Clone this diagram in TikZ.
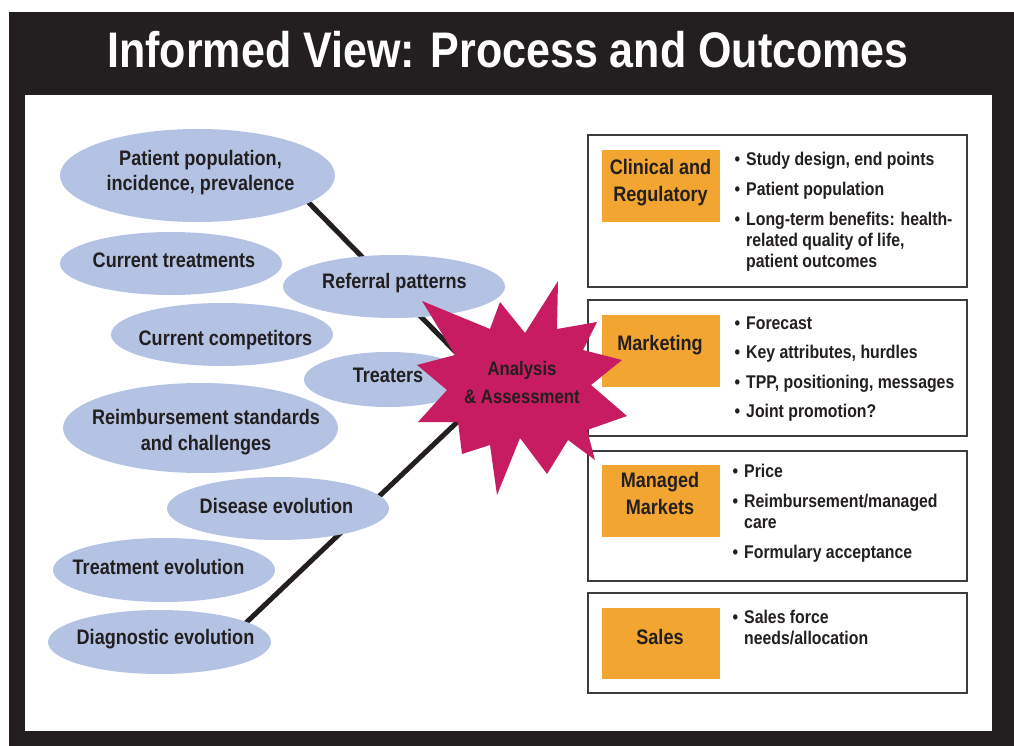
\documentclass[tikz,border=0pt]{standalone}
\usepackage{fontspec}
\setmainfont{Liberation Sans}[FakeStretch=0.86]
\usetikzlibrary{shapes.geometric}

\definecolor{frameink}{RGB}{35,31,32}
\definecolor{bubble}{RGB}{180,195,227}
\definecolor{burst}{RGB}{200,28,98}
\definecolor{tabfill}{RGB}{242,165,48}
\definecolor{ink}{RGB}{35,31,32}
\definecolor{boxline}{RGB}{60,60,60}

% multi-line nodes below are placed by the baseline of their last line
\tikzset{
  bub/.style={ellipse, fill=bubble, inner sep=0pt, outer sep=0pt},
  bubtxt/.style={anchor=base, align=center, inner sep=0pt, text=ink,
    font=\fontsize{21}{25.5}\selectfont\bfseries},
  panel/.style={draw=boxline, line width=1.4pt, fill=white, inner sep=0pt,
    minimum width=379pt},
  tab/.style={fill=tabfill, inner sep=0pt, minimum width=118pt},
  tabtxt/.style={anchor=base, align=center, inner sep=0pt, text=ink,
    font=\fontsize{21}{26.5}\selectfont\bfseries},
  item/.style={anchor=base west, align=left, inner sep=0pt, text=ink,
    font=\fontsize{18.4}{21}\selectfont\bfseries},
  spoke/.style={draw=ink, line width=5pt},
}
\newcommand{\bul}{\llap{\textbullet\hspace{6pt}}}

\begin{document}
\begin{tikzpicture}[x=1pt, y=-1pt]
\useasboundingbox (0,0) rectangle (1014,746);

% frame and white panel
\fill[frameink] (9,12) rectangle (1014,746);
\fill[white] (25,95) rectangle (992,731);
\node[anchor=base, inner sep=0pt, text=white,
      font=\fontsize{50}{50}\selectfont\bfseries] (title) at (508,68)
  {Informed View: Process and Outcomes};

% spokes into the burst
\coordinate (hub) at (492,389);
\coordinate (upend) at (285,178.5);
\coordinate (loend) at (230,638);
\draw[spoke] (upend) -- (hub) -- (loend);

% input bubbles
\node[bub, minimum width=275pt, minimum height=93pt] (pp) at (197.5,175.5) {};
\node[bub, minimum width=222pt, minimum height=63pt] (ct) at (171,263.5) {};
\node[bub, minimum width=222pt, minimum height=63pt] (cc) at (222,334.5) {};
\node[bub, minimum width=275pt, minimum height=90pt] (rs) at (200.5,428) {};
\node[bub, minimum width=222pt, minimum height=63pt] (rp) at (394,286.5) {};
\node[bub, minimum width=168pt, minimum height=55pt] (tr) at (388,379.5) {};
\node[bub, minimum width=222pt, minimum height=63pt] (de) at (278,508.5) {};
\node[bub, minimum width=222pt, minimum height=64pt] (te) at (164,570) {};
\node[bub, minimum width=223pt, minimum height=64pt] (dx) at (159.5,642) {};

\node[bubtxt] (pp-t) at (200.5,191) {Patient population,\\incidence, prevalence};
\node[bubtxt] (ct-t) at (174,267) {Current treatments};
\node[bubtxt] (cc-t) at (225.5,345) {Current competitors};
\node[bubtxt] (rs-t) at (206,450) {Reimbursement standards\\and challenges};
\node[bubtxt] (rp-t) at (394.5,288) {Referral patterns};
\node[bubtxt] (tr-t) at (388,382) {Treaters};
\node[bubtxt] (de-t) at (276.5,513) {Disease evolution};
\node[bubtxt] (te-t) at (158.5,574) {Treatment evolution};
\node[bubtxt] (dx-t) at (165.5,644) {Diagnostic evolution};

% outcome panels
\node[panel, minimum height=152pt] (p1) at (777.5,211) {};
\node[panel, minimum height=136pt] (p2) at (777.5,368) {};
\node[panel, minimum height=130pt] (p3) at (777.5,516) {};
\node[panel, minimum height=100pt] (p4) at (777.5,643) {};

\node[tab, minimum height=72pt] (t1) at (661,186) {};
\node[tab, minimum height=72pt] (t2) at (661,351) {};
\node[tab, minimum height=72pt] (t3) at (661,501) {};
\node[tab, minimum height=71pt] (t4) at (661,643.5) {};

\node[tabtxt] (t1-t) at (660.5,201) {Clinical and\\Regulatory};
\node[tabtxt] (t2-t) at (660,350) {Marketing};
\node[tabtxt] (t3-t) at (660,514) {Managed\\Markets};
\node[tabtxt] (t4-t) at (660,644) {Sales};

% bullet lists
\node[item] (c1) at (746,166) {\bul Study design, end points};
\node[item] (c2) at (746,196) {\bul Patient population};
\node[item] (c3) at (746,267) {\bul Long-term benefits: health-\\related quality of life,\\patient outcomes};

\node[item] (m1) at (746,329) {\bul Forecast};
\node[item] (m2) at (746,358) {\bul Key attributes, hurdles};
\node[item] (m3) at (746,388) {\bul TPP, positioning, messages};
\node[item] (m4) at (746,417) {\bul Joint promotion?};

\node[item] (k1) at (744,477) {\bul Price};
\node[item] (k2) at (744,528) {\bul Reimbursement/managed\\care};
\node[item] (k3) at (744,558) {\bul Formulary acceptance};

\node[item] (s1) at (744,644) {\bul Sales force\\needs/allocation};

% central burst, on top of bubbles and panels
\fill[burst] (558,281) -- (557,329) -- (597,322) -- (583,350) -- (622,360)
  -- (591,385) -- (627,416) -- (587,430) -- (595,460) -- (568,440)
  -- (547,474) -- (520,438) -- (497,495) -- (490,445) -- (462,454)
  -- (458,422) -- (418,422) -- (447,390) -- (417,365) -- (455,355)
  -- (422,301) -- (490,329) -- (500,302) -- (525,333) -- cycle;
\node[anchor=base, align=center, inner sep=0pt, text=ink,
      font=\fontsize{19.5}{28}\selectfont\bfseries] (burst) at (522,403)
  {Analysis\\\& Assessment};
\end{tikzpicture}
\end{document}
